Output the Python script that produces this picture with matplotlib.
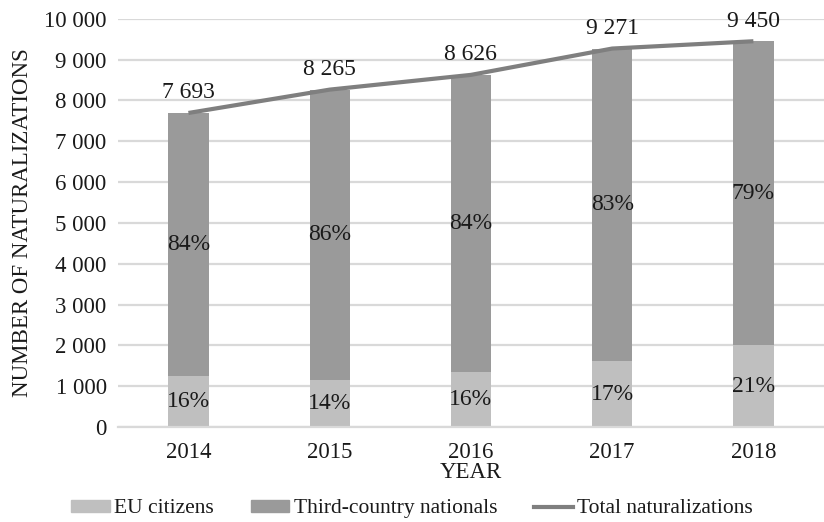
import matplotlib
matplotlib.use("Agg")
import matplotlib.pyplot as plt
from matplotlib.lines import Line2D
from matplotlib.patches import Patch
import numpy as np

plt.rcParams['font.family'] = ['Liberation Serif', 'DejaVu Serif']

years = ["2014", "2015", "2016", "2017", "2018"]
eu_citizens = [1240, 1160, 1340, 1610, 2000]
third_country = [6453, 7105, 7286, 7661, 7450]
totals = [7693, 8265, 8626, 9271, 9450]
eu_pct = ["16%", "14%", "16%", "17%", "21%"]
tcn_pct = ["84%", "86%", "84%", "83%", "79%"]
yticks = [0, 1000, 2000, 3000, 4000, 5000, 6000, 7000, 8000, 9000, 10000]

c_eu = "#bfbfbf"
c_tcn = "#9a9a9a"
c_line = "#7f7f7f"
c_grid = "#d9d9d9"
c_text = "#1a1a1a"

fig = plt.figure(figsize=(8.24, 5.22), dpi=100)
ax = fig.add_axes([0.143, 0.182, 0.857, 0.782])

x = np.arange(len(years))
w = 0.285
ax.bar(x, eu_citizens, w, color=c_eu, zorder=2)
ax.bar(x, third_country, w, bottom=eu_citizens, color=c_tcn, zorder=2)
ax.plot(x, totals, color=c_line, lw=3, zorder=3, solid_capstyle='butt')

fs = 16.5
fs_lab = 17
for i in range(len(years)):
    ax.text(x[i], eu_citizens[i] / 2, eu_pct[i], ha='center', va='center', fontsize=fs_lab, color=c_text, zorder=4)
    ax.text(x[i], eu_citizens[i] + third_country[i] / 2, tcn_pct[i], ha='center', va='center', fontsize=fs_lab, color=c_text, zorder=4)
    ax.annotate(f"{totals[i]:,}".replace(",", " "), (x[i], totals[i]), xytext=(0, 7),
                textcoords='offset points', ha='center', va='bottom', fontsize=fs_lab, color=c_text, zorder=4)

ax.set_xlim(-0.5, len(years) - 0.5)
ax.set_ylim(0, 10000)
ax.set_yticks(yticks)
ax.set_yticklabels([f"{v:,}".replace(",", " ") for v in yticks], fontsize=fs, color=c_text)
ax.set_xticks(x)
ax.set_xticklabels(years, fontsize=fs, color=c_text)
ax.tick_params(length=0)
ax.tick_params(axis='y', pad=8)
ax.tick_params(axis='x', pad=11)
ax.yaxis.grid(True, color=c_grid, lw=1.6, zorder=0)
ax.set_axisbelow(True)
for s in ['top', 'right', 'left']:
    ax.spines[s].set_visible(False)
ax.spines['bottom'].set_color(c_grid)
ax.spines['bottom'].set_linewidth(1.6)

ax.set_xlabel("YEAR", fontsize=fs, color=c_text, labelpad=-1)
ax.set_ylabel("NUMBER OF NATURALIZATIONS", fontsize=fs, color=c_text, labelpad=8)

handles = [Patch(color=c_eu, label="EU citizens"),
           Patch(color=c_tcn, label="Third-country nationals"),
           Line2D([0], [0], color=c_line, lw=3, label="Total naturalizations")]
leg = fig.legend(handles=handles, loc='center', bbox_to_anchor=(0.5, 0.025), ncol=3, frameon=False,
                 fontsize=15.5, handlelength=1.8, handleheight=0.5, columnspacing=1.7, handletextpad=0.2)
for t in leg.get_texts():
    t.set_color(c_text)

fig.savefig("out.png", dpi=100)
